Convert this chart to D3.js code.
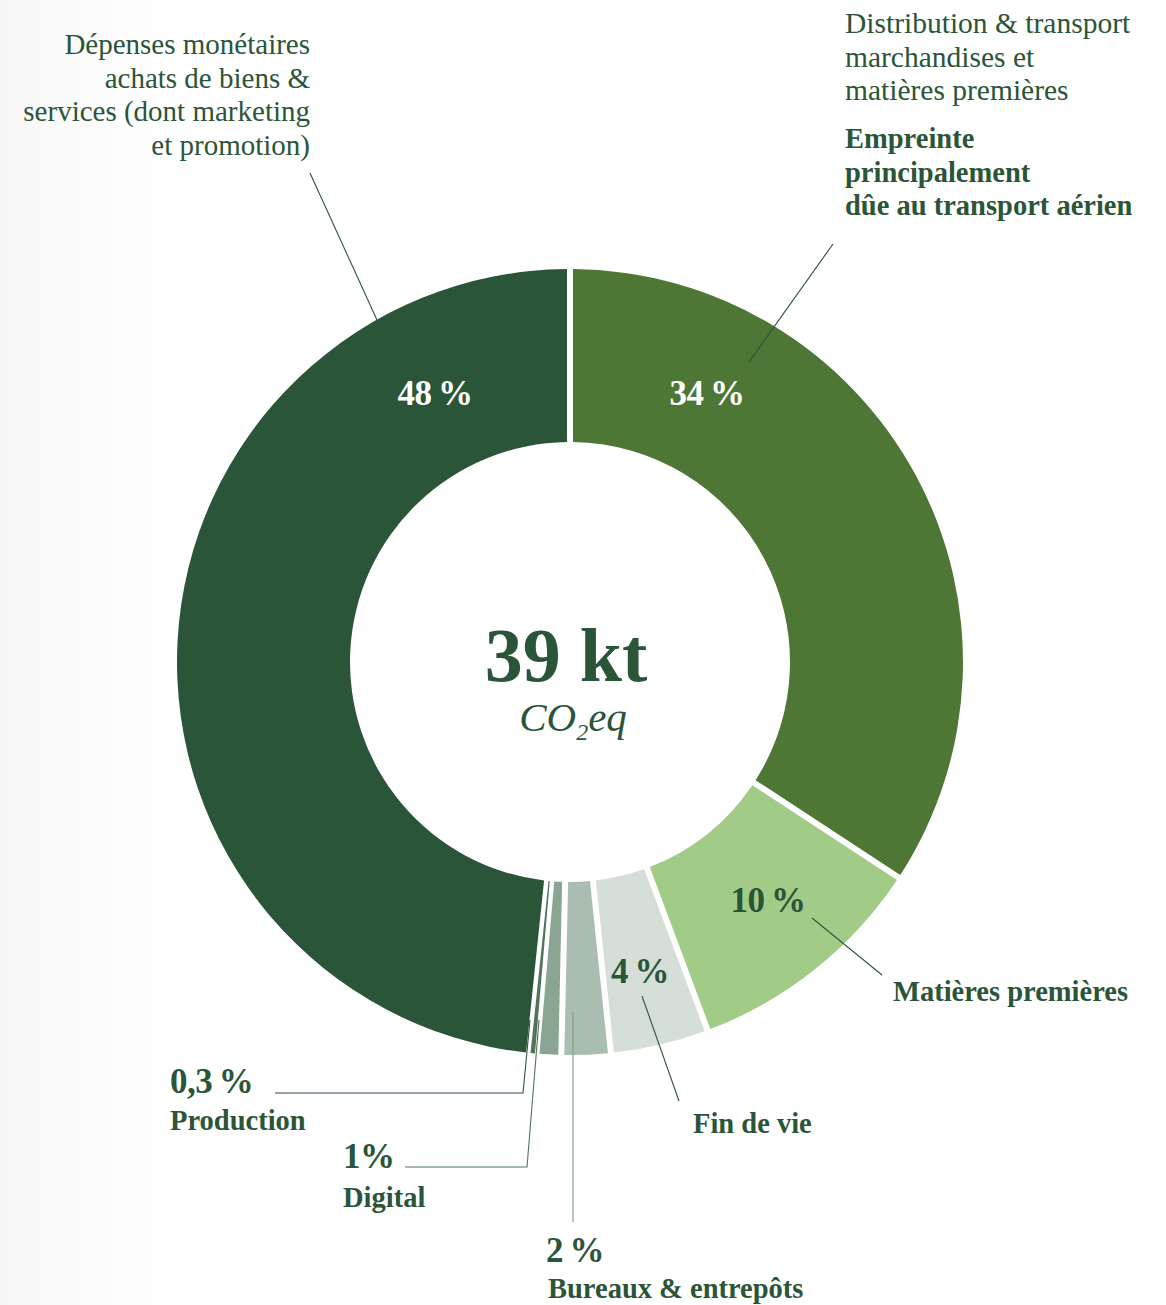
<!DOCTYPE html>
<html>
<head>
<meta charset="utf-8">
<script src="https://cdn.jsdelivr.net/npm/d3@7"></script>
<style>
  html, body { margin: 0; padding: 0; background: #ffffff; }
  svg { display: block; }
</style>
</head>
<body>
<div id="chart"></div>
<script>
// data, clockwise from 12 o'clock
var categories = ["Distribution & transport", "Matières premières", "Fin de vie", "Bureaux & entrepôts", "Digital", "Production", "Dépenses monétaires"];
var shares = [34, 10, 4, 2, 1, 0.3, 48];
var shareLabels = ["34\u2009%", "10\u2009%", "4\u2009%", "2\u2009%", "1%", "0,3\u2009%", "48\u2009%"];
var sliceColors = ["#4e7735", "#a2cb87", "#d5dfd7", "#a9bdb0", "#8aa592", "#4f7458", "#2b5539"];

var W = 1166, H = 1305;
var cx = 570, cy = 662, rOuter = 393, rInner = 220;
var green = "#2b5539";
var serif = "'Liberation Serif', 'DejaVu Serif', serif";

var svg = d3.select("#chart").append("svg")
	.attr("width", W)
	.attr("height", H);

// faint grey fade on the left edge
var grad = svg.append("defs").append("linearGradient")
	.attr("id", "bgFade").attr("x1", 0).attr("x2", 1).attr("y1", 0).attr("y2", 0);
grad.append("stop").attr("offset", "0").attr("stop-color", "#f7f7f7");
grad.append("stop").attr("offset", "1").attr("stop-color", "#ffffff");
svg.append("rect").attr("width", W).attr("height", H).attr("fill", "#ffffff");
svg.append("rect").attr("width", 170).attr("height", H).attr("fill", "url(#bgFade)");

var pie = d3.pie().sort(null).value(d => d);
var arc = d3.arc()
	.innerRadius(rInner)
	.outerRadius(rOuter)
	// thin slices keep some colour, the gap shrinks with them
	.padAngle(d => Math.min(6 / rOuter, (d.endAngle - d.startAngle) * 0.4))
	.padRadius(rOuter);

var g = svg.append("g").attr("transform", "translate(" + cx + "," + cy + ")");
g.selectAll("path.slice")
	.data(pie(shares))
	.enter()
	.append("path")
		.attr("class", "slice")
		.attr("d", arc)
		.attr("fill", (d, i) => sliceColors[i]);

// leader lines (drawn over the ring)
var leaders = [
	{pts: [[310, 173], [377, 320]], color: green},
	{pts: [[833, 244], [749, 362]], color: green},
	{pts: [[812, 918], [882, 975]], color: green},
	{pts: [[642, 996], [679, 1101]], color: green},
	{pts: [[573, 1012], [573, 1222]], color: "#7d9a86"},
	{pts: [[539, 1020], [527, 1167], [405, 1167]], color: "#4f7458"},
	{pts: [[530, 1020], [523, 1093], [275, 1093]], color: green}
];
var line = d3.line();
svg.selectAll("path.leader")
	.data(leaders)
	.enter()
	.append("path")
		.attr("class", "leader")
		.attr("d", d => line(d.pts))
		.attr("fill", "none")
		.attr("stroke", d => d.color)
		.attr("stroke-width", 1.1);

// percentage labels
var pctPos = [
	{x: 707, y: 405, fill: "#ffffff", anchor: "middle"},
	{x: 768, y: 912, fill: green, anchor: "middle"},
	{x: 640, y: 983, fill: green, anchor: "middle"},
	{x: 546, y: 1262, fill: green, anchor: "start"},
	{x: 343, y: 1168, fill: green, anchor: "start"},
	{x: 170, y: 1093, fill: green, anchor: "start"},
	{x: 435, y: 405, fill: "#ffffff", anchor: "middle"}
];
svg.selectAll("text.pct")
	.data(shareLabels)
	.enter()
	.append("text")
		.attr("class", "pct")
		.attr("x", (d, i) => pctPos[i].x)
		.attr("y", (d, i) => pctPos[i].y)
		.attr("text-anchor", (d, i) => pctPos[i].anchor)
		.attr("fill", (d, i) => pctPos[i].fill)
		.attr("font-family", serif)
		.attr("font-size", "35px")
		.attr("font-weight", "bold")
		.attr("letter-spacing", "-0.5px")
		.text(d => d);

// category names
var namePos = [
	{x: 893, y: 1001, text: "Matières premières"},
	{x: 693, y: 1133, text: "Fin de vie"},
	{x: 548, y: 1298, text: "Bureaux & entrepôts"},
	{x: 343, y: 1207, text: "Digital"},
	{x: 170, y: 1130, text: "Production"}
];
svg.selectAll("text.name")
	.data(namePos)
	.enter()
	.append("text")
		.attr("class", "name")
		.attr("x", d => d.x)
		.attr("y", d => d.y)
		.attr("fill", green)
		.attr("font-family", serif)
		.attr("font-size", "28.5px")
		.attr("font-weight", "bold")
		.text(d => d.text);

// top-left note
var noteLeft = ["Dépenses monétaires", "achats de biens &", "services (dont marketing", "et promotion)"];
svg.selectAll("text.noteL")
	.data(noteLeft)
	.enter()
	.append("text")
		.attr("class", "noteL")
		.attr("x", 310)
		.attr("y", (d, i) => 54 + i * 33.7)
		.attr("text-anchor", "end")
		.attr("fill", green)
		.attr("font-family", serif)
		.attr("font-size", "29px")
		.text(d => d);

// top-right note
var noteRight = ["Distribution & transport", "marchandises et", "matières premières"];
var noteRightBold = ["Empreinte", "principalement", "dûe au transport aérien"];
svg.selectAll("text.noteR")
	.data(noteRight)
	.enter()
	.append("text")
		.attr("class", "noteR")
		.attr("x", 845)
		.attr("y", (d, i) => 33 + i * 33.7)
		.attr("fill", green)
		.attr("font-family", serif)
		.attr("font-size", "29.5px")
		.text(d => d);
svg.selectAll("text.noteRB")
	.data(noteRightBold)
	.enter()
	.append("text")
		.attr("class", "noteRB")
		.attr("x", 845)
		.attr("y", (d, i) => 148 + i * 33.7)
		.attr("fill", green)
		.attr("font-family", serif)
		.attr("font-size", "28.5px")
		.attr("font-weight", "bold")
		.text(d => d);

// centre total
svg.append("text")
	.attr("x", 566)
	.attr("y", 681)
	.attr("text-anchor", "middle")
	.attr("fill", green)
	.attr("font-family", serif)
	.attr("font-size", "76px")
	.attr("font-weight", "bold")
	.text("39 kt");

var co2 = svg.append("text")
	.attr("x", 573)
	.attr("y", 731)
	.attr("text-anchor", "middle")
	.attr("fill", green)
	.attr("font-family", serif)
	.attr("font-size", "41px")
	.attr("font-style", "italic");
co2.append("tspan").text("CO");
co2.append("tspan").attr("font-size", "24px").attr("dy", 9).text("2");
co2.append("tspan").attr("dy", -9).text("eq");
</script>
</body>
</html>
